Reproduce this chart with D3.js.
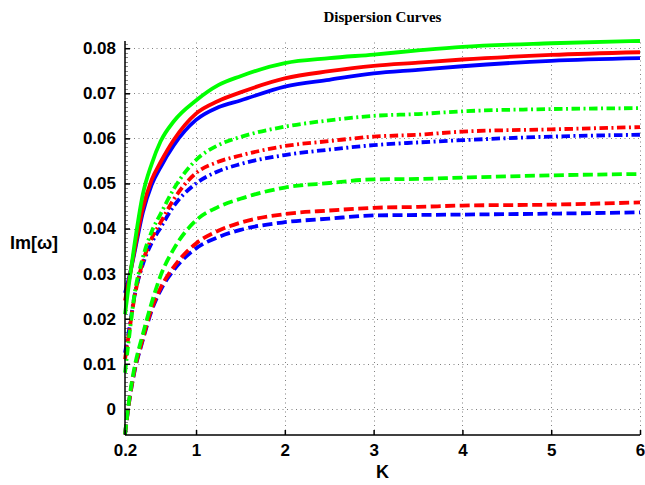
<!DOCTYPE html>
<html>
<head>
<meta charset="utf-8">
<script src="https://cdn.jsdelivr.net/npm/d3@7"></script>
<style>
  body { margin: 0; background: #fff; }
  .tick text { font-family: "Liberation Sans", Arial, sans-serif; font-weight: bold; font-size: 17px; fill: #000; }
</style>
</head>
<body>
<div id="chart"></div>
<script>
// K values where the curves were sampled
const kValues = [0.2, 0.25, 0.3, 0.4, 0.5, 0.6, 0.75, 1, 1.25, 1.5, 2, 2.5, 3, 3.5, 4, 5, 6];

// solid curves
const greenSolid = [0.021, 0.0285, 0.0355, 0.0475, 0.0543, 0.0593, 0.0638, 0.0684, 0.0718, 0.0738, 0.0767, 0.0778, 0.0786, 0.0795, 0.0803, 0.0811, 0.0816];
const redSolid   = [0.024, 0.029, 0.0345, 0.0445, 0.0508, 0.0547, 0.0597, 0.0655, 0.0683, 0.0702, 0.0733, 0.0749, 0.0761, 0.0768, 0.0775, 0.0785, 0.0791];
const blueSolid  = [0.0257, 0.0295, 0.034, 0.0435, 0.0497, 0.0536, 0.0585, 0.0641, 0.0669, 0.0684, 0.0715, 0.0730, 0.0744, 0.0752, 0.0760, 0.0772, 0.0778];

// dash-dot curves
const greenDashDot = [0.008, 0.0165, 0.0245, 0.0335, 0.0393, 0.0432, 0.0488, 0.0552, 0.0585, 0.0603, 0.0626, 0.0640, 0.0650, 0.0654, 0.0660, 0.0665, 0.0667];
const redDashDot   = [0.011, 0.0175, 0.024, 0.0325, 0.0378, 0.0413, 0.0465, 0.0523, 0.0548, 0.0562, 0.0583, 0.0594, 0.0604, 0.0608, 0.0615, 0.0620, 0.0625];
const blueDashDot  = [0.0124, 0.018, 0.0243, 0.032, 0.0368, 0.0402, 0.045, 0.0500, 0.0527, 0.0543, 0.0563, 0.0575, 0.0585, 0.0591, 0.0596, 0.0604, 0.0608];

// dashed curves
const greenDashed = [-0.0057, 0.0025, 0.0085, 0.0165, 0.0235, 0.0295, 0.0355, 0.0418, 0.0448, 0.0466, 0.0491, 0.0501, 0.0509, 0.0510, 0.0513, 0.0518, 0.0521];
const redDashed   = [-0.0057, 0.002, 0.0078, 0.0155, 0.0222, 0.0268, 0.0315, 0.0367, 0.0395, 0.0413, 0.0432, 0.0440, 0.0446, 0.0448, 0.0451, 0.0453, 0.0458];
const blueDashed  = [-0.0057, 0.002, 0.0076, 0.0152, 0.0218, 0.0263, 0.0308, 0.0356, 0.0381, 0.0397, 0.0414, 0.0422, 0.0429, 0.0430, 0.0431, 0.0433, 0.0436];

const xTicks = [0.2, 1, 2, 3, 4, 5, 6];
const yTicks = [0, 0.01, 0.02, 0.03, 0.04, 0.05, 0.06, 0.07, 0.08];

const series = [
  { values: blueDashed, color: "#0000ff", dash: "10,4.5" },
  { values: redDashed, color: "#ff0000", dash: "10,4.5" },
  { values: greenDashed, color: "#00ff00", dash: "10,4.5" },
  { values: blueDashDot, color: "#0000ff", dash: "8.5,3.5,2,3.5" },
  { values: redDashDot, color: "#ff0000", dash: "8.5,3.5,2,3.5" },
  { values: greenDashDot, color: "#00ff00", dash: "8.5,3.5,2,3.5" },
  { values: blueSolid, color: "#0000ff", dash: null },
  { values: redSolid, color: "#ff0000", dash: null },
  { values: greenSolid, color: "#00ff00", dash: null }
];

const width = 645, height = 485;
const margin = { left: 125, right: 5, top: 41, bottom: 50 };

const svg = d3.select("#chart")
  .append("svg")
  .attr("width", width)
  .attr("height", height);

const x = d3.scaleLinear().domain([0.2, 6]).range([margin.left, width - margin.right]);
const y = d3.scaleLinear().domain([-0.0058, 0.0816]).range([height - margin.bottom, margin.top]);

// grid
const grid = svg.append("g").attr("stroke", "#808080").attr("stroke-width", 1).attr("stroke-dasharray", "1,3.5");
grid.selectAll(".vg").data(xTicks.slice(1)).enter().append("line")
  .attr("x1", d => Math.round(x(d)) + 0.5).attr("x2", d => Math.round(x(d)) + 0.5)
  .attr("y1", y(-0.0058)).attr("y2", y(0.0816));
grid.selectAll(".hg").data(yTicks).enter().append("line")
  .attr("y1", d => Math.round(y(d)) + 0.5).attr("y2", d => Math.round(y(d)) + 0.5)
  .attr("x1", x(0.2)).attr("x2", x(6));

// minor ticks on the y axis
const minor = d3.range(-0.005, 0.0816, 0.001);
svg.append("g").selectAll("line").data(minor).enter().append("line")
  .attr("x1", x(0.2)).attr("x2", x(0.2) + 3)
  .attr("y1", d => Math.round(y(d)) + 0.5).attr("y2", d => Math.round(y(d)) + 0.5)
  .attr("stroke", "#888").attr("stroke-width", 1);

// curves
const line = d3.line()
  .x((d, i) => x(kValues[i]))
  .y(d => y(d))
  .curve(d3.curveMonotoneX);

svg.append("defs").append("clipPath").attr("id", "clip")
  .append("rect").attr("x", x(0.2) - 2).attr("y", margin.top - 4)
  .attr("width", x(6) - x(0.2) + 4).attr("height", y(-0.0058) - margin.top + 4);

svg.append("g").attr("clip-path", "url(#clip)")
  .selectAll("path").data(series).enter().append("path")
  .attr("d", d => line(d.values))
  .attr("fill", "none")
  .attr("stroke", d => d.color)
  .attr("stroke-width", 3.8)
  .attr("stroke-dasharray", d => d.dash);

// axes
const xAxis = svg.append("g")
  .attr("transform", `translate(0,${height - margin.bottom})`)
  .call(d3.axisBottom(x).tickValues(xTicks).tickSize(-5).tickPadding(9).tickFormat(d => d));
const yAxis = svg.append("g")
  .attr("transform", `translate(${margin.left},0)`)
  .call(d3.axisLeft(y).tickValues(yTicks).tickSize(-5).tickPadding(9).tickFormat(d => d === 0 ? "0" : d3.format(".2f")(d)));
[xAxis, yAxis].forEach(a => {
  a.select(".domain").attr("stroke", "#000").attr("stroke-width", 1.5);
  a.selectAll(".tick line").attr("stroke", "#000").attr("stroke-width", 1.5);
});
yAxis.select(".domain").attr("d", `M0,${y(-0.0058)}V${margin.top}`);
xAxis.select(".domain").attr("d", `M${x(0.2)},0H${x(6)}`);

// title and labels
svg.append("text")
  .attr("x", (x(0.2) + x(6)) / 2).attr("y", 22)
  .attr("text-anchor", "middle")
  .style("font-family", "'Liberation Serif', 'Times New Roman', serif")
  .style("font-weight", "bold").style("font-size", "15px")
  .text("Dispersion Curves");

svg.append("text")
  .attr("x", (x(0.2) + x(6)) / 2).attr("y", 478)
  .attr("text-anchor", "middle")
  .style("font-family", "'Liberation Sans', Arial, sans-serif")
  .style("font-weight", "bold").style("font-size", "18px")
  .text("K");

svg.append("text")
  .attr("x", 34).attr("y", 249)
  .attr("text-anchor", "middle")
  .style("font-family", "'Liberation Sans', Arial, sans-serif")
  .style("font-weight", "bold").style("font-size", "18px")
  .text("Im[ω]");
</script>
</body>
</html>
